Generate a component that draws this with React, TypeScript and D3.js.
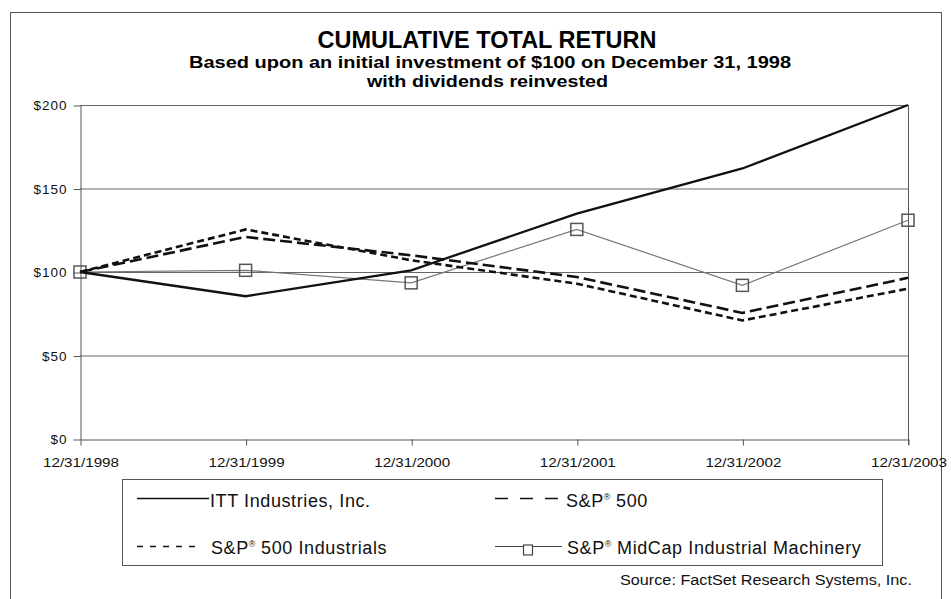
import React, { useRef, useEffect } from 'react';
import * as d3 from 'd3';

// chart data
const dates = ['12/31/1998', '12/31/1999', '12/31/2000', '12/31/2001', '12/31/2002', '12/31/2003'];
const ittValues = [100, 85.5, 101, 135, 162, 200];
const sp500Values = [100, 121, 110, 97, 75.5, 96.5];
const sp500IndValues = [100, 125.5, 107, 93, 71, 90];
const midcapValues = [100, 101, 93.5, 125.5, 92, 131];
const yTicks = [0, 50, 100, 150, 200];

const W = 951;
const H = 599;

function App() {
  const ref = useRef<SVGSVGElement>(null);

  useEffect(() => {
    const svg = d3.select(ref.current);
    svg.selectAll('*').remove();

    const font = '"Liberation Sans", Arial, sans-serif';
    const x = d3.scalePoint<string>().domain(dates).range([80, 908]);
    const y = d3.scaleLinear().domain([0, 200]).range([439, 105]);

    svg.append('rect').attr('width', W).attr('height', H).attr('fill', '#fff');

    // outer frame
    svg.append('rect')
      .attr('x', 10.5).attr('y', 12.5).attr('width', 931).attr('height', 620)
      .attr('fill', 'none').attr('stroke', '#555').attr('stroke-width', 1);

    // titles
    svg.append('text').attr('x', 487).attr('y', 48)
      .attr('text-anchor', 'middle').attr('font-family', font).attr('font-weight', 'bold')
      .attr('font-size', 23).attr('textLength', 339).attr('lengthAdjust', 'spacingAndGlyphs')
      .text('CUMULATIVE TOTAL RETURN');
    svg.append('text').attr('x', 490).attr('y', 68)
      .attr('text-anchor', 'middle').attr('font-family', font).attr('font-weight', 'bold')
      .attr('font-size', 16).attr('textLength', 602).attr('lengthAdjust', 'spacingAndGlyphs')
      .text('Based upon an initial investment of $100 on December 31, 1998');
    svg.append('text').attr('x', 487.5).attr('y', 87)
      .attr('text-anchor', 'middle').attr('font-family', font).attr('font-weight', 'bold')
      .attr('font-size', 16).attr('textLength', 241).attr('lengthAdjust', 'spacingAndGlyphs')
      .text('with dividends reinvested');

    // gridlines
    const g = svg.append('g');
    g.selectAll('line.grid').data(yTicks.filter(d => d > 0)).enter().append('line')
      .attr('x1', x(dates[0])!).attr('x2', x(dates[dates.length - 1])!)
      .attr('y1', d => y(d) + 0.5).attr('y2', d => y(d) + 0.5)
      .attr('stroke', '#666').attr('stroke-width', 1);

    // y axis
    const yAxis = svg.append('g').attr('transform', `translate(${x(dates[0])! + 0.5},0.5)`)
      .call(d3.axisLeft(y).tickValues(yTicks).tickSize(7).tickSizeOuter(0).tickFormat(d => `$${d}`));
    yAxis.select('.domain').attr('stroke', '#555');
    yAxis.selectAll('line').attr('stroke', '#555');
    yAxis.selectAll('text').attr('font-family', font).attr('font-size', 13.5).attr('fill', '#111')
      .attr('dx', -3).attr('letter-spacing', 1);

    // x axis
    const xAxis = svg.append('g').attr('transform', `translate(0.5,${y(0) + 0.5})`)
      .call(d3.axisBottom(x).tickSize(6).tickSizeOuter(0));
    xAxis.select('.domain').attr('stroke', '#555');
    xAxis.selectAll('line').attr('stroke', '#555');
    xAxis.selectAll('text').attr('font-family', font).attr('font-size', 12.5).attr('fill', '#111')
      .attr('y', 0).attr('dy', 0).attr('transform', 'translate(0,27)')
      .attr('textLength', 76).attr('lengthAdjust', 'spacingAndGlyphs');

    // right border line of plot
    svg.append('line')
      .attr('x1', x(dates[dates.length - 1])! + 0.5).attr('x2', x(dates[dates.length - 1])! + 0.5)
      .attr('y1', y(200)).attr('y2', y(0) + 6)
      .attr('stroke', '#555');

    const line = d3.line<number>().x((_, i) => x(dates[i])!).y(d => y(d));

    svg.append('path').datum(midcapValues).attr('d', line)
      .attr('fill', 'none').attr('stroke', '#777').attr('stroke-width', 1.2);
    svg.selectAll('rect.mk').data(midcapValues).enter().append('rect')
      .attr('x', (_, i) => x(dates[i])! - 6).attr('y', d => y(d) - 6)
      .attr('width', 12).attr('height', 12)
      .attr('fill', 'none').attr('stroke', '#555').attr('stroke-width', 1.5);

    svg.append('path').datum(sp500IndValues).attr('d', line)
      .attr('fill', 'none').attr('stroke', '#111').attr('stroke-width', 2.6)
      .attr('stroke-dasharray', '7,4');
    svg.append('path').datum(sp500Values).attr('d', line)
      .attr('fill', 'none').attr('stroke', '#111').attr('stroke-width', 2.6)
      .attr('stroke-dasharray', '12,5');
    svg.append('path').datum(ittValues).attr('d', line)
      .attr('fill', 'none').attr('stroke', '#111').attr('stroke-width', 2.3);

    // legend
    svg.append('rect').attr('x', 122.5).attr('y', 479.5).attr('width', 760).attr('height', 86)
      .attr('fill', 'none').attr('stroke', '#555');

    const lg = svg.append('g').attr('font-family', font).attr('font-size', 18).attr('fill', '#111')
      .attr('letter-spacing', 0.6);
    const sup = (t: d3.Selection<SVGTextElement, unknown, null, undefined>) => {
      t.append('tspan').text('S&P');
      t.append('tspan').attr('font-size', 9).attr('dy', -7).attr('letter-spacing', 0).text('®');
      return t;
    };

    lg.append('line').attr('x1', 137).attr('x2', 209).attr('y1', 498.5).attr('y2', 498.5)
      .attr('stroke', '#111').attr('stroke-width', 1.6);
    lg.append('text').attr('x', 210).attr('y', 506.5).text('ITT Industries, Inc.');

    lg.append('line').attr('x1', 495).attr('x2', 559).attr('y1', 498.5).attr('y2', 498.5)
      .attr('stroke', '#111').attr('stroke-width', 1.6).attr('stroke-dasharray', '13,12');
    const t2 = lg.append('text').attr('x', 566).attr('y', 506.5);
    sup(t2);
    t2.append('tspan').attr('dy', 7).text(' 500');

    lg.append('line').attr('x1', 137).attr('x2', 201).attr('y1', 546.5).attr('y2', 546.5)
      .attr('stroke', '#111').attr('stroke-width', 1.6).attr('stroke-dasharray', '6,7');
    const t3 = lg.append('text').attr('x', 211).attr('y', 554);
    sup(t3);
    t3.append('tspan').attr('dy', 7).text(' 500 Industrials');

    lg.append('line').attr('x1', 495).attr('x2', 562).attr('y1', 546.5).attr('y2', 546.5)
      .attr('stroke', '#444').attr('stroke-width', 1.2);
    lg.append('rect').attr('x', 523.5).attr('y', 545).attr('width', 9).attr('height', 10)
      .attr('fill', '#fff').attr('stroke', '#444').attr('stroke-width', 1.2);
    const t4 = lg.append('text').attr('x', 567).attr('y', 554);
    sup(t4);
    t4.append('tspan').attr('dy', 7).text(' MidCap Industrial Machinery');

    svg.append('text').attr('x', 620).attr('y', 585)
      .attr('font-family', font).attr('font-size', 14).attr('fill', '#111')
      .attr('textLength', 292).attr('lengthAdjust', 'spacingAndGlyphs')
      .text('Source: FactSet Research Systems, Inc.');
  }, []);

  return (
    <div style={{ position: 'fixed', left: 0, top: 0, width: W, height: H, overflow: 'hidden', background: '#fff' }}>
      <svg ref={ref} width={W} height={H} style={{ display: 'block' }}></svg>
    </div>
  );
}

export default App;
